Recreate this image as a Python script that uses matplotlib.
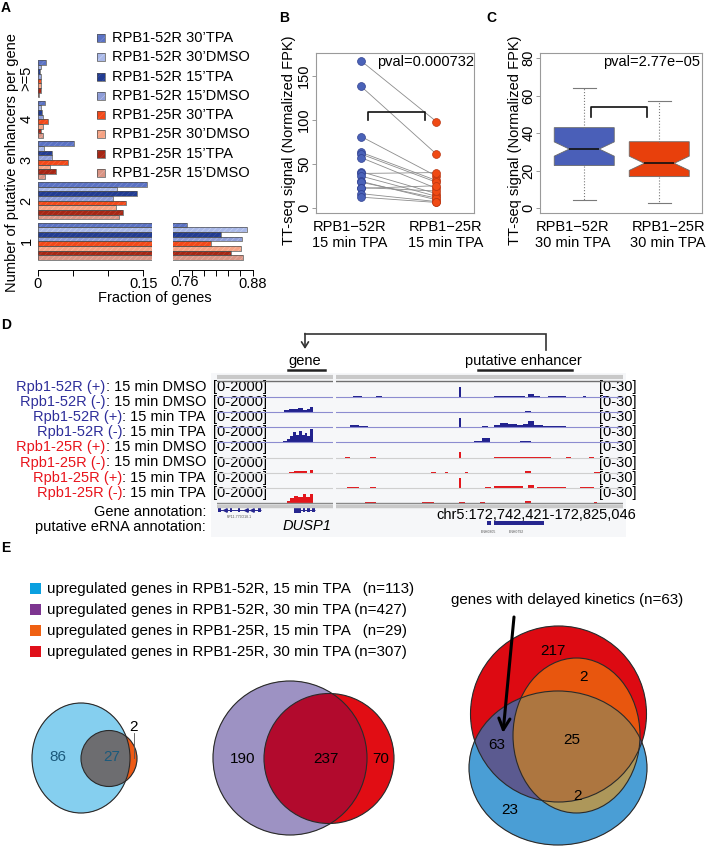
import numpy as np
import matplotlib
matplotlib.use("Agg")
import matplotlib.pyplot as plt
from matplotlib.colors import to_rgba
from matplotlib.patches import Ellipse, Rectangle

plt.rcParams['font.family'] = ['Liberation Sans', 'DejaVu Sans']
plt.rcParams['hatch.linewidth'] = 0.5

W, H = 710, 846

# ---------------- panel A : fraction of genes per enhancer count ----------------
enh_groups = ['1', '2', '3', '4', '>=5']
a_series = ['RPB1-52R 30\u2019TPA', 'RPB1-52R 30\u2019DMSO', 'RPB1-52R 15\u2019TPA', 'RPB1-52R 15\u2019DMSO',
            'RPB1-25R 30\u2019TPA', 'RPB1-25R 30\u2019DMSO', 'RPB1-25R 15\u2019TPA', 'RPB1-25R 15\u2019DMSO']
frac_1 = [0.772, 0.871, 0.828, 0.862, 0.811, 0.861, 0.844, 0.865]
frac_2 = [0.155, 0.113, 0.141, 0.107, 0.126, 0.111, 0.121, 0.115]
frac_3 = [0.051, 0.009, 0.021, 0.020, 0.043, 0.017, 0.026, 0.010]
frac_4 = [0.011, 0.005, 0.006, 0.007, 0.014, 0.008, 0.004, 0.007]
frac_5 = [0.012, 0.004, 0.003, 0.004, 0.005, 0.004, 0.004, 0.002]
a_colors = ['#5b72c4', '#a9b8e8', '#223c92', '#8e9dd8', '#f2491a', '#f5a283', '#a52715', '#d99484']
a_hatch = ['#7a8ed0', '#c4d0f2', '#3a529f', '#b0bce6', '#f56a40', '#f8bca4', '#b84030', '#e6b0a4']

# ---------------- panel B : paired TT-seq signal ----------------
b_52r = [167, 138, 81, 63, 61, 57, 41, 39, 36, 30, 29, 23, 22, 16, 12]
b_25r = [98, 61, 36, 31, 29, 22, 16, 40, 13, 9, 11, 19, 25, 7, 6]
b_labels = ['RPB1\u221252R\n15 min TPA', 'RPB1\u221225R\n15 min TPA']
b_pval = 'pval=0.000732'

# ---------------- panel C : boxplots ----------------
c_labels = ['RPB1\u221252R\n30 min TPA', 'RPB1\u221225R\n30 min TPA']
c_q1 = [22.8, 16.9]
c_med = [31.6, 24.0]
c_q3 = [43.0, 35.5]
c_lo = [4.3, 2.7]
c_hi = [64.0, 57.4]
c_ci_lo = [27.8, 20.2]
c_ci_hi = [35.4, 27.8]
c_pval = 'pval=2.77e\u221205'

# ---------------- panel D : browser tracks (start, end, height) ----------------
d_prefix = ['Rpb1-52R (+)', 'Rpb1-52R (-)', 'Rpb1-52R (+)', 'Rpb1-52R (-)',
            'Rpb1-25R (+)', 'Rpb1-25R (-)', 'Rpb1-25R (+)', 'Rpb1-25R (-)']
d_cond = [': 15 min DMSO', ': 15 min DMSO', ': 15 min TPA', ': 15 min TPA',
          ': 15 min DMSO', ': 15 min DMSO', ': 15 min TPA', ': 15 min TPA']
gene_52p_dmso = []
gene_52m_dmso = [(0.58, 0.62, 250), (0.62, 0.66, 450), (0.66, 0.70, 400), (0.70, 0.74, 550),
                 (0.74, 0.78, 350), (0.78, 0.80, 500), (0.80, 0.83, 800)]
gene_52p_tpa = []
gene_52m_tpa = [(0.57, 0.60, 250), (0.60, 0.63, 450), (0.63, 0.655, 900), (0.655, 0.68, 1400),
                (0.68, 0.71, 1000), (0.71, 0.735, 1600), (0.735, 0.76, 1100), (0.76, 0.78, 1300),
                (0.78, 0.80, 900), (0.80, 0.83, 1900)]
gene_25p_dmso = []
gene_25m_dmso = [(0.62, 0.66, 150), (0.66, 0.72, 300), (0.72, 0.78, 200), (0.80, 0.83, 350)]
gene_25p_tpa = []
gene_25m_tpa = [(0.60, 0.63, 300), (0.63, 0.66, 700), (0.66, 0.70, 1000), (0.70, 0.74, 800),
                (0.74, 0.77, 1200), (0.77, 0.80, 900), (0.80, 0.83, 1300)]
enh_52p_dmso = [(0.06, 0.09, 3), (0.14, 0.16, 1.5), (0.43, 0.437, 22), (0.55, 0.58, 2), (0.58, 0.64, 3),
                (0.64, 0.66, 2), (0.67, 0.69, 7), (0.69, 0.71, 2), (0.74, 0.80, 1.5), (0.86, 0.87, 1.5),
                (0.93, 0.94, 1.5)]
enh_52m_dmso = [(0.33, 0.39, 1.5), (0.46, 0.47, 1.5), (0.66, 0.68, 3)]
enh_52p_tpa = [(0.05, 0.08, 6), (0.08, 0.11, 3), (0.17, 0.19, 1.5), (0.43, 0.437, 20), (0.51, 0.53, 2),
               (0.55, 0.57, 6), (0.57, 0.60, 9), (0.60, 0.63, 8), (0.63, 0.65, 5), (0.65, 0.67, 7),
               (0.67, 0.69, 14), (0.69, 0.72, 5), (0.72, 0.80, 2), (0.86, 0.88, 1.5)]
enh_52m_tpa = [(0.05, 0.10, 1.5), (0.29, 0.45, 1.5), (0.48, 0.51, 3), (0.51, 0.535, 9), (0.64, 0.68, 3)]
enh_25p_dmso = [(0.03, 0.05, 2), (0.12, 0.14, 2), (0.43, 0.437, 12), (0.55, 0.75, 2), (0.80, 0.82, 1.5),
                (0.88, 0.90, 1.5)]
enh_25m_dmso = [(0.33, 0.35, 2), (0.38, 0.39, 2), (0.45, 0.46, 1.5), (0.66, 0.68, 3), (0.90, 0.92, 1.5)]
enh_25p_tpa = [(0.04, 0.08, 1.5), (0.12, 0.14, 1.5), (0.43, 0.437, 20), (0.52, 0.54, 1.5), (0.55, 0.65, 3),
               (0.67, 0.69, 5), (0.70, 0.80, 2), (0.85, 0.90, 1.5)]
enh_25m_tpa = [(0.10, 0.14, 1.5), (0.30, 0.34, 1.5), (0.43, 0.45, 1.5), (0.50, 0.52, 2.5), (0.66, 0.68, 4),
               (0.90, 0.91, 1.5)]
rp11_exons = [(0.009, 0.035), (0.11, 0.13), (0.18, 0.20), (0.35, 0.379)]
dusp1_exons = [(0.664, 0.72), (0.74, 0.76), (0.78, 0.80), (0.82, 0.845)]
erna_regions = [(0.526, 0.54), (0.551, 0.725)]

# ---------------- panel E : Venn counts ----------------
e_legend = ['upregulated genes in RPB1-52R, 15 min TPA   (n=113)',
            'upregulated genes in RPB1-52R, 30 min TPA (n=427)',
            'upregulated genes in RPB1-25R, 15 min TPA   (n=29)',
            'upregulated genes in RPB1-25R, 30 min TPA (n=307)']
e_colors = ['#0aa0e0', '#7d3590', '#ef6012', '#e0101a']
venn1_counts = [86, 27, 2]
venn2_counts = [190, 237, 70]
venn3_counts = [217, 2, 63, 25, 2, 23]

fig = plt.figure(figsize=(W / 100, H / 100), dpi=100)
ov = fig.add_axes([0, 0, 1, 1], zorder=-1)
ov.axis('off')


def px_axes(l, t, r, b):
    ax = fig.add_axes([l / W, 1 - b / H, (r - l) / W, (b - t) / H])
    ax.set_facecolor('none')
    return ax


# ---------------- A ----------------
ax_a1 = px_axes(37.7, 56, 151.7, 270)
ax_a2 = px_axes(173.3, 56, 252.6, 270)
group_base = [2.15 + g * 8.75 for g in range(5)]
for ax in (ax_a1, ax_a2):
    for g, vals in enumerate([frac_1, frac_2, frac_3, frac_4, frac_5]):
        ys = [group_base[g] + 7.5 - s for s in range(8)]
        ax.barh(ys, vals, height=1, color=a_colors, edgecolor=a_hatch, hatch='//////', linewidth=0)
        ax.barh(ys, vals, height=1, fill=False, edgecolor='#505050', linewidth=0.5)
    ax.set_ylim(0, 46)
    for s in ('left', 'top', 'right'):
        ax.spines[s].set_visible(False)
    ax.spines['bottom'].set_linewidth(0.7)
    ax.tick_params(axis='x', length=4, width=0.7, labelsize=10.5, pad=1)
ax_a1.set_xlim(0, 0.162)
ax_a1.spines['bottom'].set_bounds(0, 0.15)
ax_a1.set_xticks([0, 0.05, 0.1, 0.15])
ax_a1.set_xticklabels(['0', '', '', '0.15'])
ax_a1.set_yticks([b + 4 for b in group_base])
ax_a1.set_yticklabels(enh_groups, rotation=90, va='center', fontsize=10.5)
ax_a1.tick_params(axis='y', length=0, pad=3)
ax_a2.set_xlim(0.75, 0.88)
ax_a2.spines['bottom'].set_bounds(0.76, 0.88)
ax_a2.set_xticks(np.arange(0.76, 0.8801, 0.02))
ax_a2.set_xticklabels(['', '', '', '', '', '', '0.88'])
ax_a2.set_yticks([])
ov.text(185, 281.5, '0.76', ha='center', va='center', fontsize=10.5)
ov.text(12, 163, 'Number of putative enhancers per gene', rotation=90, ha='center', va='center', fontsize=10.5)
ov.text(155, 298, 'Fraction of genes', ha='center', va='center', fontsize=10.5)
for i, name in enumerate(a_series):
    y = 38 + i * 19.3
    ov.add_patch(Rectangle((97, y - 4), 8, 8, facecolor=a_colors[i], edgecolor=a_hatch[i],
                           hatch='////', linewidth=0))
    ov.add_patch(Rectangle((97, y - 4), 8, 8, fill=False, edgecolor='#505050', linewidth=0.5))
    ov.text(112, y, name, va='center', fontsize=10.5)

# ---------------- B ----------------
ax_b = px_axes(316, 53, 474, 213)
for b, o in zip(b_52r, b_25r):
    ax_b.plot([1, 2], [b, o], color='#8c8c8c', lw=0.6, zorder=1)
ax_b.scatter([1] * len(b_52r), b_52r, s=32, color='#4a62b8', edgecolors='#2f3f8f', linewidths=0.5, zorder=3)
ax_b.scatter([2] * len(b_25r), b_25r, s=32, color='#f04a14', edgecolors='#b83410', linewidths=0.5, zorder=3)
ax_b.plot([1.09, 1.09, 1.85, 1.85], [100, 109, 109, 100], color='#111', lw=1.2)
ax_b.text(0.386, 0.944, b_pval, transform=ax_b.transAxes, va='center', fontsize=10.5)
ax_b.set_xlim(0.4, 2.5)
ax_b.set_ylim(-6, 176)
ax_b.set_yticks([0, 50, 100, 150])
ax_b.set_yticklabels(['0', '50', '100', '150'], rotation=90, va='center')
ax_b.set_xticks([0.85, 2.12])
ax_b.set_xticklabels(b_labels)
ov.text(289, 140, 'TT-seq signal (Normalized FPK)', rotation=90, ha='center', va='center', fontsize=10.5)

# ---------------- C ----------------
ax_c = px_axes(540, 53, 702, 213)
stats = [dict(med=c_med[i], q1=c_q1[i], q3=c_q3[i], whislo=c_lo[i], whishi=c_hi[i],
              cilo=c_ci_lo[i], cihi=c_ci_hi[i], fliers=[]) for i in range(2)]
bp = ax_c.bxp(stats, positions=[1, 2], widths=0.8, shownotches=True, patch_artist=True, showfliers=False,
              capwidths=0.31,
              boxprops=dict(edgecolor='#6a6a6a', linewidth=0.6),
              whiskerprops=dict(color='#7a7a7a', linestyle=':', linewidth=0.8),
              capprops=dict(color='#7a7a7a', linewidth=0.8),
              medianprops=dict(color='#111', linewidth=1.2))
for patch, col in zip(bp['boxes'], ['#4a5fb8', '#e8400c']):
    patch.set_facecolor(col)
ax_c.plot([1.09, 1.09, 1.84, 1.84], [48.9, 53.9, 53.9, 48.9], color='#111', lw=1.2)
ax_c.text(0.988, 0.944, c_pval, transform=ax_c.transAxes, ha='right', va='center', fontsize=10.5)
ax_c.set_xlim(0.41, 2.57)
ax_c.set_ylim(-2.5, 82.8)
ax_c.set_yticks([0, 20, 40, 60, 80])
ax_c.set_yticklabels(['0', '20', '40', '60', '80'], rotation=90, va='center')
ax_c.set_xticks([0.85, 2.12])
ax_c.set_xticklabels(c_labels)
ov.text(515, 140, 'TT-seq signal (Normalized FPK)', rotation=90, ha='center', va='center', fontsize=10.5)

for ax in (ax_b, ax_c):
    for s in ax.spines.values():
        s.set_color('#9a9a9a')
        s.set_linewidth(0.8)
    ax.tick_params(axis='y', length=3, width=0.7, color='#9a9a9a', labelsize=10.5, pad=0.5)
    ax.tick_params(axis='x', length=0, labelsize=10.5, pad=5)

# ---------------- D ----------------
ov.add_patch(Rectangle((211, 373), 415, 164, facecolor='#f6f7f9', edgecolor='none'))
ax_dl = px_axes(217, 374, 333, 537)
ax_dr = px_axes(336, 374, 623, 537)
gene_tracks = [gene_52p_dmso, gene_52m_dmso, gene_52p_tpa, gene_52m_tpa,
               gene_25p_dmso, gene_25m_dmso, gene_25p_tpa, gene_25m_tpa]
enh_tracks = [enh_52p_dmso, enh_52m_dmso, enh_52p_tpa, enh_52m_tpa,
              enh_25p_dmso, enh_25m_dmso, enh_25p_tpa, enh_25m_tpa]
sig_col = ['#22228e'] * 4 + ['#e3161c'] * 4
base_col = ['#8c8cd0'] * 4 + ['#cfcfcf'] * 4
for ax, tracks, scale in ((ax_dl, gene_tracks, 2000), (ax_dr, enh_tracks, 30)):
    ax.set_xlim(0, 1)
    ax.set_ylim(-2.25, 8.53)
    ax.set_xticks([])
    ax.set_yticks([])
    for s in ax.spines.values():
        s.set_visible(False)
    ax.axhline(8.33, color='#c9c9c9', lw=3)
    ax.axhline(8.05, color='#6f6f6f', lw=1)
    ax.axhline(-0.17, color='#c9c9c9', lw=2.5)
    for i, tr in enumerate(tracks):
        base = 7 - i
        ax.axhline(base, color=base_col[i] if i < 7 else '#8a8a8a', lw=0.8 if i < 7 else 1.0)
        if tr:
            x0 = [t[0] for t in tr]
            wd = [t[1] - t[0] for t in tr]
            hh = [t[2] / scale * 0.95 for t in tr]
            ax.bar(x0, hh, width=wd, bottom=base, align='edge', color=sig_col[i], linewidth=0)

navy = '#26268f'
ax_dl.hlines(-0.45, rp11_exons[0][0], rp11_exons[-1][1], color=navy, lw=0.7)
ax_dl.bar([e[0] for e in rp11_exons], 0.3, width=[e[1] - e[0] for e in rp11_exons], bottom=-0.6,
          align='edge', color=navy, linewidth=0)
ax_dl.plot([0.07, 0.25, 0.3], [-0.45] * 3, ls='none', marker='<', ms=2.5, color=navy)
ax_dl.hlines(-0.45, dusp1_exons[0][0], dusp1_exons[-1][1], color=navy, lw=0.7)
ax_dl.bar([e[0] for e in dusp1_exons], [0.45, 0.3, 0.3, 0.3], width=[e[1] - e[0] for e in dusp1_exons],
          bottom=[-0.675, -0.6, -0.6, -0.6], align='edge', color=navy, linewidth=0)
ax_dl.text(0.19, -0.95, 'RP11-779O18.1', ha='center', va='center', fontsize=2.5, color='#555')
ax_dr.bar([e[0] for e in erna_regions], 0.25, width=[e[1] - e[0] for e in erna_regions], bottom=-1.45,
          align='edge', color=navy, linewidth=0)
ax_dr.text(0.53, -1.95, 'ENH0805', ha='center', va='center', fontsize=2.5, color='#555')
ax_dr.text(0.63, -1.95, 'ENH0792', ha='center', va='center', fontsize=2.5, color='#555')

row_cols = ['#2e2e9a'] * 4 + ['#e8141c'] * 4
for i in range(8):
    y = 387 + i * 15.1
    t = ov.text(206, y, d_cond[i], ha='right', va='center', fontsize=10.5)
    ov.annotate(d_prefix[i], xy=(0, 0), xycoords=t, ha='right', va='bottom', fontsize=10.5, color=row_cols[i])
    ov.text(213, y, '[0-2000]', ha='left', va='center', fontsize=10.5)
    ov.text(636, y, '[0-30]', ha='right', va='center', fontsize=10.5)
ov.text(206, 512, 'Gene annotation:', ha='right', va='center', fontsize=10.5)
ov.text(206, 527, 'putative eRNA annotation:', ha='right', va='center', fontsize=10.5)
ov.text(307, 526, 'DUSP1', ha='center', va='center', fontsize=10.5, style='italic')
ov.text(636, 515, 'chr5:172,742,421-172,825,046', ha='right', va='center', fontsize=10.5)
ov.plot([546, 546, 305], [350, 334, 334], color='#333', lw=1.2, solid_joinstyle='miter')
ov.annotate('', xy=(305, 349), xytext=(305, 333.5),
            arrowprops=dict(arrowstyle='->,head_length=0.4,head_width=0.25', lw=1.2, color='#333',
                            shrinkA=0, shrinkB=0))
ov.text(305, 361, 'gene', ha='center', va='center', fontsize=10.5)
ov.plot([288, 325], [370, 370], color='#222', lw=1.8)
ov.text(523, 361, 'putative enhancer', ha='center', va='center', fontsize=10.5)
ov.plot([478, 572], [370, 370], color='#222', lw=1.8)


# ---------------- E ----------------
def draw_venn(shapes, colors, box):
    x0, x1, y0, y1 = box
    xs = np.arange(x0, x1, 0.25) + 0.125
    ys = np.arange(y0, y1, 0.25) + 0.125
    X, Y = np.meshgrid(xs, ys)
    inside = [((X - cx) / a) ** 2 + ((Y - cy) / b) ** 2 <= 1 for cx, cy, a, b in shapes]
    img = np.zeros(X.shape + (4,))
    for key, col in colors.items():
        m = np.ones(X.shape, bool)
        for flag, ins in zip(key, inside):
            m &= ins if flag else ~ins
        img[m] = to_rgba(col)
    ov.imshow(img, extent=(x0, x1, y1, y0), interpolation='antialiased', zorder=1)
    for cx, cy, a, b in shapes:
        ov.add_patch(Ellipse((cx, cy), 2 * a, 2 * b, fill=False, edgecolor='#2a2a2a', lw=0.8, zorder=2))


for i, (lab, col) in enumerate(zip(e_legend, e_colors)):
    y = 588.5 + i * 21.1
    ov.add_patch(Rectangle((30, y - 5.5), 11, 11, facecolor=col, edgecolor='none'))
    ov.text(47, y, lab, va='center', fontsize=10.9)

draw_venn([(81, 758, 49, 55), (109, 758.5, 28, 28)],
          {(1, 0): '#86cff0', (1, 1): '#6d6d70', (0, 1): '#ee5a16'}, (25, 145, 698, 818))
ov.text(58, 757, str(venn1_counts[0]), ha='center', va='center', fontsize=11, color='#1b5a7c')
ov.text(112, 757, str(venn1_counts[1]), ha='center', va='center', fontsize=11, color='#1b5a7c')
ov.text(134, 727, str(venn1_counts[2]), ha='center', va='center', fontsize=11)
ov.plot([134, 134], [733, 758], color='#555', lw=0.6, zorder=3)

draw_venn([(290, 758, 77, 77), (329, 758.5, 65, 65)],
          {(1, 0): '#9d93c4', (1, 1): '#b30b2e', (0, 1): '#e10d15'}, (208, 400, 676, 840))
ov.text(243, 759, str(venn2_counts[0]), ha='center', va='center', fontsize=11)
ov.text(326, 759, str(venn2_counts[1]), ha='center', va='center', fontsize=11)
ov.text(381, 759, str(venn2_counts[2]), ha='center', va='center', fontsize=11)

draw_venn([(558.5, 714, 88, 88), (576.5, 735.5, 63.5, 77.5), (558, 768, 89, 77)],
          {(1, 0, 0): '#dd0a12', (1, 1, 0): '#e8560e', (1, 0, 1): '#5c5a90', (1, 1, 1): '#ad7740',
           (0, 1, 1): '#ad975a', (0, 0, 1): '#4a9ed6', (0, 1, 0): '#e8560e'}, (465, 652, 622, 846))
for (x, y), n in zip([(553, 651), (583, 677), (497, 745), (572, 740), (577, 796), (510, 810)], venn3_counts):
    ov.text(x, y, str(n), ha='center', va='center', fontsize=11)
ov.text(567, 600, 'genes with delayed kinetics (n=63)', ha='center', va='center', fontsize=10.9)
ov.annotate('', xy=(503, 733), xytext=(514, 617),
            arrowprops=dict(arrowstyle='->,head_length=0.8,head_width=0.4', lw=2.2, color='k',
                            shrinkA=0, shrinkB=0), zorder=4)

for lab, (x, y) in zip('ABCDE', [(6, 8), (284, 18), (491, 18), (6, 325), (6, 548)]):
    ov.text(x, y, lab, ha='center', va='center', fontsize=10, fontweight='bold')

ov.set_aspect('auto')
ov.set_xlim(0, W)
ov.set_ylim(H, 0)
fig.savefig('out.png', dpi=100)
